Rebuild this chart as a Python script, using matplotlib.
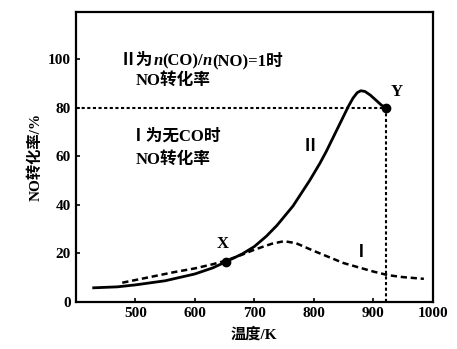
import matplotlib.pyplot as plt
from matplotlib import transforms
import numpy as np

plt.rcParams['font.family'] = ['Liberation Serif', 'Noto Sans CJK SC']
plt.rcParams['font.weight'] = 'bold'

# curve II: n(CO)/n(NO)=1
t2 = [430, 470, 500, 550, 600, 630, 652, 680, 700, 720, 738, 765, 793, 810, 821, 835,
      848, 858, 866, 873, 879, 886, 895, 905, 914, 922]
v2 = [5.8, 6.2, 7, 8.7, 11.5, 14, 16.5, 19.8, 22.8, 27, 31.5, 39.5, 50, 57, 62, 69,
      75.5, 80.5, 84, 86.2, 87, 86.7, 85.2, 83, 81, 80]
# curve I: no CO
t1 = [478, 500, 566, 600, 630, 652, 680, 700, 730, 750, 770, 800, 850, 900, 925, 950, 985]
v1 = [7.9, 9, 12.3, 13.8, 15.5, 17, 19.5, 21.5, 24, 25, 24.2, 21, 16, 12.5, 11, 10.2, 9.5]

pt_x = (652, 16.5)
pt_y = (922, 80)

fig = plt.figure(figsize=(4.57, 3.49), dpi=100)
ax = fig.add_axes([0.166, 0.135, 0.781, 0.831])

ax.plot(t2, v2, color='black', lw=2.0, solid_joinstyle='round')
ax.plot(t1, v1, color='black', lw=1.8, ls=(0, (2.5, 1.5)))

ax.plot([400, pt_y[0]], [80, 80], color='black', lw=1.5, ls=(0, (1.5, 1.2)))
ax.plot([pt_y[0], pt_y[0]], [0, 80], color='black', lw=1.5, ls=(0, (1.5, 1.2)))

ax.plot(*pt_x, 'o', color='black', ms=6)
ax.plot(*pt_y, 'o', color='black', ms=6)
ax.text(pt_x[0] - 5, pt_x[1] + 4, 'X', fontsize=12, ha='center', va='bottom')
ax.text(pt_y[0] + 8, pt_y[1] + 3, 'Y', fontsize=12, ha='left', va='bottom')

ax.text(793, 64, 'Ⅱ', fontsize=12, ha='center', va='center')
ax.text(879, 20, 'Ⅰ', fontsize=12, ha='center', va='center')

# first legend line with italic n, drawn piece by piece
renderer = fig.canvas.get_renderer()
pieces = [('Ⅱ为', 'normal'), ('n', 'italic'), ('(CO)/', 'normal'), ('n', 'italic'), ('(NO)=1时', 'normal')]
tr = ax.transData
for s, style in pieces:
    t = ax.text(474, 97.5, s, fontsize=12, ha='left', va='baseline', style=style, transform=tr)
    w = t.get_window_extent(renderer).width
    tr = transforms.offset_copy(tr, fig=fig, x=w * 72 / fig.dpi, units='points')

ax.text(500, 91, 'NO转化率', fontsize=12, ha='left', va='center')
ax.text(490, 68, 'Ⅰ为无CO时', fontsize=12, ha='left', va='center')
ax.text(500, 58.5, 'NO转化率', fontsize=12, ha='left', va='center')

ax.set_xlim(400, 993)
ax.set_ylim(0, 119.5)
ax.set_xticks([500, 600, 700, 800, 900, 1000])
ax.set_yticks([0, 20, 40, 60, 80, 100])
ax.set_xticklabels(['500', '600', '700', '800', '900', '1000'])
ax.tick_params(direction='in', length=3, width=1.2, labelsize=11)
for lab in ax.get_xticklabels() + ax.get_yticklabels():
    lab.set_fontweight('bold')
for s in ax.spines.values():
    s.set_linewidth(1.6)

ax.set_xlabel('温度/K', fontsize=11, fontweight='bold', labelpad=5)
ax.set_ylabel('NO转化率/%', fontsize=11, fontweight='bold', labelpad=4)

fig.savefig('out.png', dpi=100)
